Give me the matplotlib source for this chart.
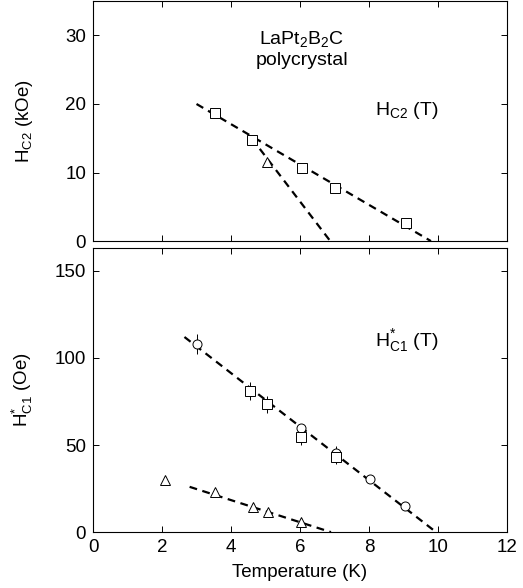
import matplotlib
matplotlib.use('Agg')
import matplotlib.pyplot as plt
import numpy as np

plt.rcParams['font.family'] = ['Liberation Sans', 'DejaVu Sans']
plt.rcParams['mathtext.fontset'] = 'custom'
plt.rcParams['mathtext.rm'] = 'Liberation Sans'
plt.rcParams['mathtext.it'] = 'Liberation Sans'
plt.rcParams['font.size'] = 13.5

# Hc2 (kOe) - painel de cima
hc2_sq_T = [3.54, 4.62, 6.05, 7.01, 9.07]
hc2_sq_H = [18.7, 14.8, 10.6, 7.8, 2.7]
hc2_tri_T = [5.03]
hc2_tri_H = [11.6]
hc2_fit1_T = [3.0, 9.8]
hc2_fit1_H = [20.0, 0.0]
hc2_fit2_T = [4.6, 6.88]
hc2_fit2_H = [15.0, 0.0]

# Hc1* (Oe) - painel de baixo
hc1_circ_T = [3.02, 6.03, 7.04, 8.03, 9.06]
hc1_circ_H = [108, 59.6, 45.6, 30.3, 15.1]
hc1_circ_err = [6, 0, 4, 0, 0]
hc1_sq_T = [4.55, 5.03, 6.03, 7.04]
hc1_sq_H = [81, 73.4, 54.8, 43.3]
hc1_sq_err = [5, 5, 5, 4]
hc1_tri_T = [2.09, 3.54, 4.65, 5.06, 6.03]
hc1_tri_H = [29.9, 22.8, 14.6, 11.3, 5.9]
hc1_fit1_T = [2.65, 9.95]
hc1_fit1_H = [112, 0]
hc1_fit2_T = [2.8, 6.9]
hc1_fit2_H = [26, 0]

fig = plt.figure(figsize=(5.23, 5.88), dpi=100)
ax1 = fig.add_axes([0.178, 0.590, 0.791, 0.408])
ax2 = fig.add_axes([0.178, 0.095, 0.791, 0.483])

tracejado = (0, (3.5, 2.5))
mk = dict(mfc='white', mec='black', mew=0.7, ls='none', color='black')

# =============================================================================
# Painel 1: Hc2
# =============================================================================
ax1.plot(hc2_fit1_T, hc2_fit1_H, color='black', lw=1.6, ls=tracejado)
ax1.plot(hc2_fit2_T, hc2_fit2_H, color='black', lw=1.6, ls=tracejado)
ax1.plot(hc2_sq_T, hc2_sq_H, marker='s', ms=6.5, **mk)
ax1.plot(hc2_tri_T, hc2_tri_H, marker='^', ms=6.5, **mk)
ax1.set_xlim(0, 12)
ax1.set_ylim(0, 35)
ax1.set_yticks([0, 10, 20, 30])
ax1.set_xticks([0, 2, 4, 6, 8, 10, 12])
ax1.set_xticklabels([])
ax1.set_ylabel(r'H$_{\mathrm{C2}}$ (kOe)')
ax1.yaxis.set_label_coords(-0.14, 0.5)
ax1.text(6.05, 29.5, r'LaPt$_2$B$_2$C', ha='center', va='center', fontsize=14)
ax1.text(6.05, 26.3, 'polycrystal', ha='center', va='center', fontsize=14)
ax1.text(9.1, 19.0, r'H$_{\mathrm{C2}}$ (T)', ha='center', va='center', fontsize=14)

# =============================================================================
# Painel 2: Hc1*
# =============================================================================
ax2.plot(hc1_fit1_T, hc1_fit1_H, color='black', lw=1.6, ls=tracejado)
ax2.plot(hc1_fit2_T, hc1_fit2_H, color='black', lw=1.6, ls=tracejado)
ax2.errorbar(hc1_circ_T, hc1_circ_H, yerr=hc1_circ_err, fmt='o', ms=6.5,
             mfc='white', mec='black', mew=0.7, ecolor='black', elinewidth=0.7, capsize=0)
ax2.errorbar(hc1_sq_T, hc1_sq_H, yerr=hc1_sq_err, fmt='s', ms=6.5,
             mfc='white', mec='black', mew=0.7, ecolor='black', elinewidth=0.7, capsize=0)
ax2.plot(hc1_tri_T, hc1_tri_H, marker='^', ms=6.5, **mk)
ax2.set_xlim(0, 12)
ax2.set_ylim(0, 163)
ax2.set_yticks([0, 50, 100, 150])
ax2.set_xticks([0, 2, 4, 6, 8, 10, 12])
ax2.set_xlabel('Temperature (K)', labelpad=6)
ax2.set_ylabel(r'H$^{*}_{\mathrm{C1}}$ (Oe)')
ax2.yaxis.set_label_coords(-0.14, 0.5)
ax2.text(9.1, 110, r'H$^{*}_{\mathrm{C1}}$ (T)', ha='center', va='center', fontsize=14)

for ax in (ax1, ax2):
    ax.tick_params(direction='in', top=True, right=True, length=4, width=0.7,
                   labelsize=13.5, pad=5)
    for s in ax.spines.values():
        s.set_linewidth(0.8)

fig.savefig('out.png', dpi=100)
